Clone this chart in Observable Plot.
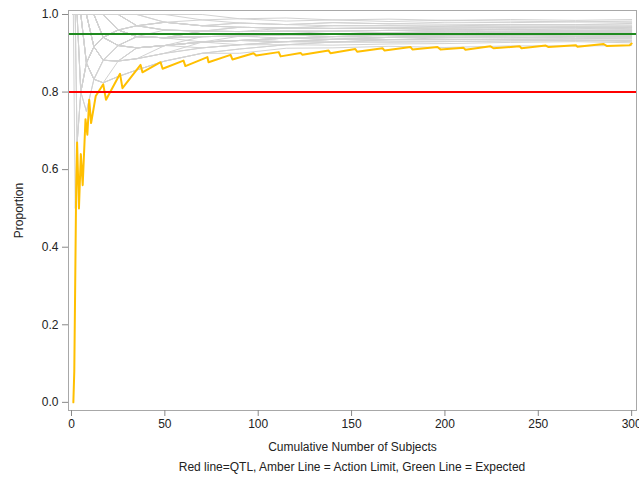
<!DOCTYPE html>
<html>
<head>
<meta charset="utf-8">
<script src="https://cdn.jsdelivr.net/npm/d3@7"></script>
<script src="https://cdn.jsdelivr.net/npm/@observablehq/plot@0.6"></script>
<style>
  body { margin: 0; background: #fff; font-family: "Liberation Sans", Arial, sans-serif; }
  #wrap { position: relative; width: 639px; height: 477px; }
  #caption { position: absolute; left: 68px; width: 568px; top: 460px; text-align: center; font-size: 12px; color: #222; }
</style>
</head>
<body>
<div id="wrap"><div id="chart"></div><div id="caption">Red line=QTL, Amber Line = Action Limit, Green Line = Expected</div></div>
<script>
// checkpoints (cumulative number of subjects) for the grey simulated trajectories
const simN = [1,2,3,5,8,12,17,25,35,50,70,90,115,140,170,200,235,270,300];
// grey simulated cumulative proportions, one array per trajectory (values at simN)
const simP = [
  [1,1,1,1,1,.917,.941,.96,.943,.94,.943,.944,.948,.95,.947,.95,.949,.952,.95],
  [1,1,1,1,.875,.917,.941,.92,.943,.94,.957,.956,.957,.95,.953,.95,.953,.952,.953],
  [1,1,1,.8,.875,.917,.882,.92,.914,.92,.929,.933,.939,.943,.941,.945,.945,.944,.943],
  [1,1,1,1,1,1,1,.96,.971,.98,.971,.967,.965,.964,.965,.965,.966,.967,.967],
  [1,1,1,1,1,1,.941,.92,.914,.92,.914,.922,.93,.936,.935,.94,.94,.941,.94],
  [1,1,1,1,.875,.833,.882,.88,.914,.92,.929,.933,.939,.936,.941,.945,.945,.948,.947],
  [1,1,1,1,1,1,1,1,.971,.96,.957,.956,.957,.957,.959,.96,.962,.959,.96],
  [1,1,.667,.8,.875,.833,.882,.88,.886,.9,.929,.933,.93,.936,.941,.94,.94,.944,.943],
  [1,1,1,1,1,.917,.882,.92,.914,.92,.929,.933,.93,.929,.929,.93,.932,.933,.933],
  [1,1,1,1,1,1,1,.96,.943,.96,.957,.967,.965,.964,.965,.965,.966,.967,.963],
  [1,1,1,1,.875,.917,.882,.92,.943,.94,.943,.944,.948,.95,.953,.955,.953,.956,.957],
  [1,1,1,1,1,1,.941,.96,.943,.94,.943,.944,.939,.943,.947,.95,.953,.956,.953],
  [1,1,1,.8,.75,.833,.824,.88,.886,.9,.914,.922,.93,.929,.935,.935,.936,.937,.937],
  [1,1,1,1,1,1,1,1,1,.98,.971,.978,.974,.979,.976,.98,.979,.981,.983],
  [1,1,1,1,1,.917,.941,.92,.914,.92,.929,.933,.939,.943,.941,.945,.945,.948,.95],
  [1,1,1,1,1,1,.941,.92,.943,.94,.957,.956,.957,.957,.959,.955,.957,.959,.96],
  [1,1,1,1,1,.917,.941,.96,.943,.94,.943,.944,.948,.943,.947,.945,.945,.948,.947],
  [1,.5,.667,.8,.875,.833,.882,.88,.914,.92,.929,.944,.948,.95,.953,.955,.957,.956,.957],
  [1,1,1,1,1,1,1,.96,.943,.94,.929,.933,.93,.936,.935,.935,.936,.937,.937],
  [1,1,1,1,1,1,1,1,.971,.98,.971,.967,.965,.971,.971,.97,.974,.974,.977],
  [1,1,1,1,.875,.917,.941,.96,.943,.94,.943,.944,.948,.95,.953,.95,.949,.952,.95],
  [1,1,1,1,1,1,.941,.96,.943,.94,.943,.944,.948,.95,.953,.955,.957,.959,.96],
  [1,1,1,.8,.875,.833,.824,.84,.857,.88,.9,.911,.922,.929,.929,.93,.932,.933,.93],
  [1,1,1,1,1,1,1,.96,.971,.96,.957,.967,.965,.964,.965,.96,.962,.963,.963],
  [1,1,1,1,1,.917,.882,.88,.914,.92,.943,.944,.948,.95,.947,.95,.953,.952,.953],
  [1,1,1,1,1,1,1,1,.971,.96,.957,.956,.965,.964,.965,.97,.97,.97,.97],
  [1,1,1,1,.875,.833,.824,.84,.857,.88,.9,.911,.922,.929,.935,.935,.936,.937,.94],
  [1,1,1,1,1,1,.941,.96,.971,.96,.957,.956,.957,.957,.959,.96,.962,.963,.967],
  [1,1,1,1,1,1,1,.96,.943,.94,.943,.944,.948,.943,.947,.945,.949,.948,.947],
  [1,1,1,1,1,.917,.941,.92,.943,.94,.957,.956,.957,.957,.959,.96,.957,.959,.957],
  [1,1,.667,.8,.75,.833,.824,.84,.857,.88,.9,.9,.913,.914,.918,.915,.919,.919,.92],
  [1,1,1,1,1,1,1,1,1,1,1,.989,.991,.986,.988,.985,.987,.985,.987],
  [1,1,1,1,1,1,1,.96,.971,.98,.986,.978,.974,.979,.976,.975,.974,.974,.973],
  [1,1,1,.8,.875,.917,.941,.92,.914,.92,.929,.933,.939,.936,.941,.94,.945,.944,.947],
  [1,1,1,1,1,1,.941,.92,.914,.92,.929,.922,.93,.936,.941,.945,.949,.952,.95],
  [1,1,1,1,1,1,1,1,1,.98,.971,.967,.965,.964,.965,.965,.966,.967,.967],
  [1,1,1,1,.875,.917,.882,.88,.886,.92,.929,.933,.939,.943,.947,.95,.953,.952,.953],
  [1,1,1,1,1,1,1,1,.971,.98,.971,.978,.974,.971,.971,.97,.97,.97,.97],
  [1,1,1,1,1,.917,.882,.88,.886,.9,.914,.922,.922,.921,.924,.925,.928,.93,.927],
  [1,1,1,1,1,1,1,1,1,1,.986,.989,.983,.986,.982,.985,.983,.981,.98]
];
// amber action limit
const amberN = [1,1.5,2,2.5,3,4,5,6,7.5,8.5,9.5,10.5,13,17,18.5,26,27.3,37,38,47.7,48.8,60,61,72.8,73.4,85.2,86.2,97.5,99,111,112,122.7,123.7,137.7,138.7,152,153,166.6,167.7,181.6,182.6,196,197.6,210,211,224.4,226,240,241,254,255.5,270,271,285,286.6,299,300];
const amberP = [0,0.08,0.31,0.55,0.67,0.50,0.64,0.56,0.73,0.69,0.78,0.72,0.79,0.82,0.78,0.847,0.81,0.87,0.851,0.877,0.86,0.881,0.867,0.89,0.877,0.896,0.884,0.900,0.894,0.903,0.892,0.901,0.896,0.907,0.900,0.911,0.904,0.913,0.907,0.916,0.910,0.916,0.910,0.914,0.909,0.918,0.913,0.918,0.913,0.920,0.916,0.921,0.917,0.924,0.919,0.921,0.925];
const qtl = [0.80];
const expected = [0.95];
const xTicks = [0,50,100,150,200,250,300];
const yTicks = [0,0.2,0.4,0.6,0.8,1.0];

const simTable = simP.flatMap((s, i) => s.map((p, j) => ({sim: i, n: simN[j], p})));
const amberTable = amberN.map((n, i) => ({n, p: amberP[i]}));

const chart = Plot.plot({
  width: 639,
  height: 456,
  marginLeft: 68,
  marginRight: 3,
  marginTop: 10,
  marginBottom: 46,
  style: {fontFamily: "'Liberation Sans', Arial, sans-serif", fontSize: "12px", color: "#222", background: "#fff"},
  x: {domain: [-1.6, 302.6]},
  y: {domain: [-0.021, 1.0103]},
  marks: [
    Plot.line(simTable, {x: "n", y: "p", z: "sim", stroke: "#d2d2d2", strokeWidth: 1}),
    Plot.line(amberTable, {x: "n", y: "p", stroke: "#ffbf00", strokeWidth: 2}),
    Plot.ruleY(qtl, {stroke: "#ff0000", strokeWidth: 2}),
    Plot.ruleY(expected, {stroke: "#1f8a1f", strokeWidth: 2}),
    Plot.frame({stroke: "#a8a8a8"}),
    Plot.axisX({ticks: xTicks, tickSize: 6, tickPadding: 3, stroke: "#888", label: "Cumulative Number of Subjects", labelAnchor: "center", labelOffset: 40, labelArrow: false}),
    Plot.axisY({ticks: yTicks, tickFormat: d3.format(".1f"), tickSize: 6, tickPadding: 4, stroke: "#888", label: "Proportion", labelAnchor: "center", labelOffset: 54, labelArrow: false})
  ]
});
document.getElementById("chart").appendChild(chart);
</script>
</body>
</html>
